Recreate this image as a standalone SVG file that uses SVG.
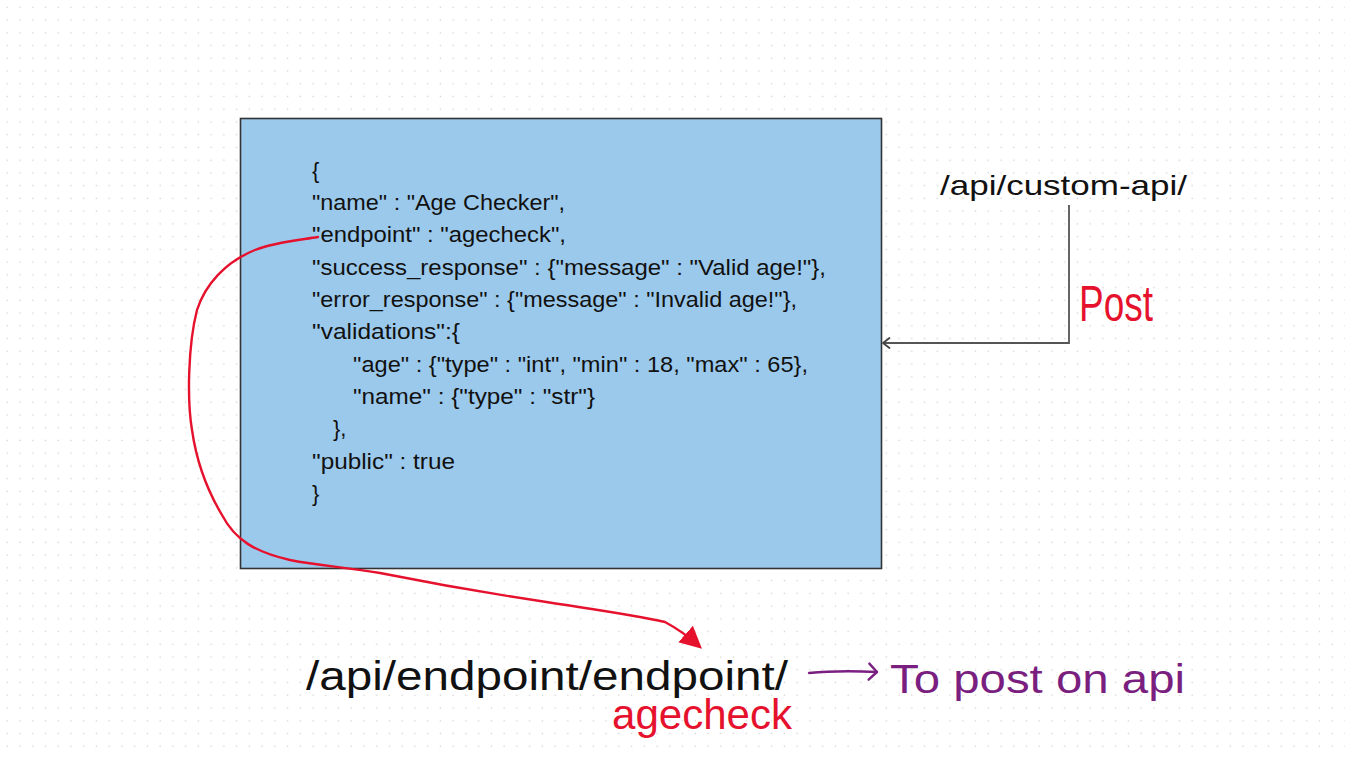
<svg xmlns="http://www.w3.org/2000/svg" width="1345" height="758" viewBox="0 0 1345 758">
<style>
.code{font-family:"Liberation Sans",Arial,sans-serif;font-size:22px;fill:#111}
.big{font-family:"Liberation Sans",Arial,sans-serif;fill:#111}
.hand{font-family:"Liberation Sans",Arial,sans-serif}
</style>
<defs>
<pattern id="dots" x="1" y="1" width="12.74" height="12.74" patternUnits="userSpaceOnUse">
<rect x="5.6" y="5.6" width="1.4" height="1.4" fill="#d4d4d4"/>
</pattern>
<marker id="open" markerWidth="14" markerHeight="14" refX="8" refY="7" orient="auto" markerUnits="userSpaceOnUse">
<path d="M1.5,2 L8,7 L1.5,12" fill="none" stroke="#444" stroke-width="1.8" stroke-linecap="round" stroke-linejoin="round"/>
</marker>
<marker id="purp" markerWidth="16" markerHeight="20" refX="14" refY="10" orient="auto" markerUnits="userSpaceOnUse">
<path d="M6,2 L14,10 L6,18" fill="none" stroke="#7a1f80" stroke-width="2.4" stroke-linecap="round" stroke-linejoin="round"/>
</marker>
<marker id="redtri" markerWidth="28" markerHeight="28" refX="18" refY="14" orient="auto" markerUnits="userSpaceOnUse">
<path d="M0,3 L22,14 L0,25 Z" fill="#e5112d"/>
</marker>
</defs>
<rect width="1345" height="758" fill="#ffffff"/>
<rect width="1345" height="758" fill="url(#dots)"/>

<g id="json-box">
<rect x="240.5" y="118.5" width="641" height="450" fill="#9bc9ec" stroke="#333" stroke-width="1.6"/>
<text class="code" x="312" y="178">{</text>
<text class="code" x="312" y="210" textLength="253" lengthAdjust="spacingAndGlyphs">"name" : "Age Checker",</text>
<text class="code" x="312" y="242" textLength="254" lengthAdjust="spacingAndGlyphs">"endpoint" : "agecheck",</text>
<text class="code" x="312" y="275" textLength="514" lengthAdjust="spacingAndGlyphs">"success_response" : {"message" : "Valid age!"},</text>
<text class="code" x="312" y="307" textLength="485" lengthAdjust="spacingAndGlyphs">"error_response" : {"message" : "Invalid age!"},</text>
<text class="code" x="312" y="339" textLength="148" lengthAdjust="spacingAndGlyphs">"validations":{</text>
<text class="code" x="353" y="372" textLength="455" lengthAdjust="spacingAndGlyphs">"age" : {"type" : "int", "min" : 18, "max" : 65},</text>
<text class="code" x="353" y="404" textLength="242" lengthAdjust="spacingAndGlyphs">"name" : {"type" : "str"}</text>
<text class="code" x="333" y="436">},</text>
<text class="code" x="312" y="469" textLength="143" lengthAdjust="spacingAndGlyphs">"public" : true</text>
<text class="code" x="312" y="501">}</text>
</g>

<g id="custom-api">
<text class="big" x="940" y="195" font-size="28" textLength="247" lengthAdjust="spacingAndGlyphs">/api/custom-api/</text>
</g>

<g id="endpoint-url">
<text class="big" x="306" y="690" font-size="40" textLength="482" lengthAdjust="spacingAndGlyphs">/api/endpoint/endpoint/</text>
</g>

<g id="notes">
<text class="hand" x="1079" y="321" font-size="50" fill="#e5112d" textLength="74" lengthAdjust="spacingAndGlyphs">Post</text>
<text class="hand" x="612" y="729" font-size="42" fill="#e5112d" textLength="180" lengthAdjust="spacingAndGlyphs">agecheck</text>
<text class="hand" x="890" y="693" font-size="40" fill="#7a1f80" textLength="295" lengthAdjust="spacingAndGlyphs">To post on api</text>
</g>

<g id="connectors">
<path d="M1069,205 L1069,343 L883,343" fill="none" stroke="#555" stroke-width="1.8" marker-end="url(#open)"/>
<path d="M809,673 C830,671 855,671 877,672" fill="none" stroke="#7a1f80" stroke-width="2.4" stroke-linecap="round" marker-end="url(#purp)"/>
<path d="M318,237 C300,240 275,242 255,250 C225,262 205,285 197,310 C188,345 187,400 192,430 C197,465 210,495 222,515 C235,540 255,552 290,560 C320,566 345,567 380,573 C430,583 480,592 540,601 C590,609 630,614 665,622 C680,630 690,638 699,646" fill="none" stroke="#e5112d" stroke-width="2.4" stroke-linecap="round" marker-end="url(#redtri)"/>
</g>
</svg>
